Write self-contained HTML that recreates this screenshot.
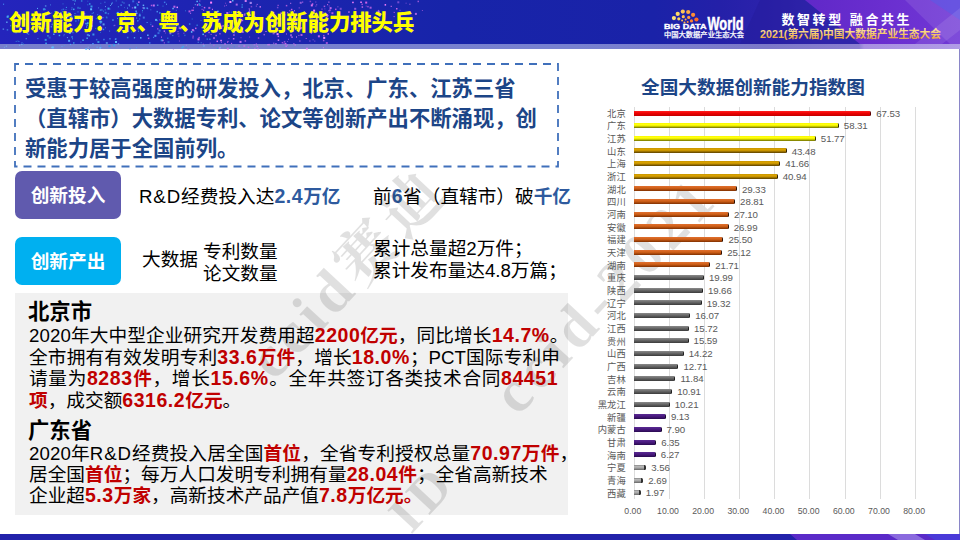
<!DOCTYPE html>
<html lang="zh-CN">
<head>
<meta charset="utf-8">
<title>创新能力：京、粤、苏成为创新能力排头兵</title>
<style>
*{margin:0;padding:0;box-sizing:border-box}
html,body{width:960px;height:540px;overflow:hidden;background:#fff}
body{position:relative;font-family:"Liberation Sans","Noto Sans CJK SC",sans-serif;color:#000}
.abs{position:absolute;white-space:nowrap}
/* header */
#ttl{left:9px;top:7.5px;font-size:21.33px;font-weight:900;color:#ffff00;line-height:30px;letter-spacing:0px}
/* content */
#intro{left:25px;top:73.5px;font-size:21.33px;font-weight:bold;color:#1c4587;line-height:30px}
.btn{position:absolute;left:15px;width:106px;height:48px;border-radius:7px;color:#fff;font-size:18.67px;font-weight:bold;text-align:center;line-height:48px}
#b1{top:171px;background:#605aae;line-height:50.5px}
#b2{top:237px;background:#00b0f0;line-height:49.2px}
.t18{font-size:18.67px;line-height:22px}
.bl{color:#2e5a9e;font-weight:bold}
.jl{text-align:justify;text-align-last:justify}
.rd{color:#c00000;font-weight:bold}
.n{font-size:19.5px;letter-spacing:0.55px}
#gbox{position:absolute;left:15px;top:293px;width:553px;height:222px;background:#f1f1f1}
.h20{font-size:21.33px;font-weight:bold;line-height:24px}
/* chart */
#ctitle{left:641px;top:75px;font-size:18.67px;font-weight:bold;color:#1c4587;line-height:26px}
.gl{position:absolute;top:107px;width:1px;height:392px;background:#dcdcdc}
.ax{position:absolute;top:505px;width:40px;text-align:center;font-size:8.7px;color:#595959;line-height:12px}
.cl{position:absolute;right:334.3px;font-size:9.3px;color:#595959;line-height:12px;white-space:nowrap}
.vl{position:absolute;font-size:9.7px;color:#595959;line-height:12px;letter-spacing:-0.1px}
.bar{position:absolute;left:633.8px;height:5px;border-radius:0 1.5px 1.5px 0}
.bar.r{background:linear-gradient(#ff2020 0%,#f00000 45%,#c00000 100%);border-right:1.5px solid #600000}
.bar.y{background:linear-gradient(#f8f800 0%,#ffff10 30%,#f0f000 52%,#b0b000 78%,#6a6a00 100%);border-right:1.5px solid #303000}
.bar.g{background:linear-gradient(#c89600 0%,#d8a000 30%,#c89400 50%,#8a6400 78%,#5a4000 100%);border-right:1.5px solid #302000}
.bar.o{background:linear-gradient(#e07030 0%,#d06018 45%,#803000 100%);border-right:1.5px solid #301000}
.bar.d{background:linear-gradient(#8a8a8a 0%,#686868 45%,#3a3a3a 100%);border-right:1.5px solid #202020}
.bar.p{background:linear-gradient(#5a2a92 0%,#4a1a80 45%,#2a0a50 100%);border-right:1.5px solid #180830}
.bar.l{background:linear-gradient(#888 0%,#bdbdbd 35%,#a0a0a0 60%,#666 100%);border-right:2px solid #303030}
</style>
</head>
<body>
<svg width="960" height="50" viewBox="0 0 960 50" style="position:absolute;left:0;top:0">
<defs>
<linearGradient id="hb" x1="0" y1="0" x2="960" y2="0" gradientUnits="userSpaceOnUse"><stop offset="0" stop-color="#2424bc"/><stop offset="0.26" stop-color="#1c24b0"/><stop offset="0.47" stop-color="#1724a9"/><stop offset="0.68" stop-color="#1a22a8"/><stop offset="0.75" stop-color="#2420a8"/><stop offset="0.80" stop-color="#2c22ac"/><stop offset="0.86" stop-color="#3a2cb8"/><stop offset="1" stop-color="#3a2cb8"/></linearGradient>
<linearGradient id="hp" x1="0" y1="0" x2="1" y2="0"><stop offset="0" stop-color="#6028c8"/><stop offset="0.5" stop-color="#6a2ecf"/><stop offset="1" stop-color="#7038d6"/></linearGradient>
<linearGradient id="hs" x1="0" y1="0" x2="960" y2="0" gradientUnits="userSpaceOnUse"><stop offset="0" stop-color="#7880cc"/><stop offset="0.6" stop-color="#7882d0"/><stop offset="0.8" stop-color="#7c78c8"/><stop offset="0.895" stop-color="#8a7ed0"/><stop offset="0.9" stop-color="#a890e0"/><stop offset="1" stop-color="#b09ce6"/></linearGradient>
<linearGradient id="gold" x1="0" y1="0" x2="0" y2="1"><stop offset="0" stop-color="#fff0b0"/><stop offset="0.5" stop-color="#f6c868"/><stop offset="1" stop-color="#e89a3a"/></linearGradient>
</defs>
<rect x="0" y="0" width="960" height="44" fill="url(#hb)"/>
<polygon points="740,44 860,44 805,0 760,0" fill="#241a9a" opacity="0.45"/>
<polygon points="805,0 960,0 960,44 860,44" fill="url(#hp)"/>
<polygon points="905,0 960,0 960,44 950,44" fill="#ffffff" opacity="0.10"/>
<polygon points="930,0 960,0 960,20" fill="#5a5ae6" opacity="0.6"/>
<polygon points="915,44 960,8 960,30 942,44" fill="#ffffff" opacity="0.10"/>
<rect x="0" y="44" width="960" height="5" fill="url(#hs)"/>
<rect x="142.5" y="7.4" width="1" height="1" fill="#ff80ff" opacity="0.85"/>
<rect x="256.4" y="44.6" width="1" height="1" fill="#c070f0" opacity="0.7"/>
<rect x="54.5" y="10.9" width="1.5" height="1.5" fill="#4aa0ff" opacity="1"/>
<rect x="58.6" y="20.5" width="2" height="2" fill="#4aa0ff" opacity="0.7"/>
<rect x="45.3" y="28.0" width="1.5" height="1.5" fill="#40a8f0" opacity="0.55"/>
<rect x="159.1" y="12.2" width="1.5" height="1.5" fill="#40a8f0" opacity="0.85"/>
<rect x="231.1" y="42.9" width="1" height="1" fill="#e070f0" opacity="1"/>
<rect x="185.5" y="47.1" width="1" height="1" fill="#3890e0" opacity="0.85"/>
<rect x="261.5" y="28.4" width="1.5" height="1.5" fill="#f08cff" opacity="0.55"/>
<rect x="169.7" y="32.8" width="1.5" height="1.5" fill="#5ab8ff" opacity="0.55"/>
<rect x="217.2" y="10.7" width="1.5" height="1.5" fill="#70c8ff" opacity="1"/>
<rect x="122.5" y="20.3" width="1" height="1" fill="#5ab8ff" opacity="0.55"/>
<rect x="77.5" y="11.4" width="1" height="1" fill="#4aa0ff" opacity="0.85"/>
<rect x="124.0" y="7.1" width="1" height="1" fill="#3890e0" opacity="0.55"/>
<rect x="299.5" y="27.4" width="2" height="2" fill="#c070f0" opacity="1"/>
<rect x="71.4" y="16.7" width="1.5" height="1.5" fill="#5ab8ff" opacity="0.55"/>
<rect x="91.5" y="18.4" width="1" height="1" fill="#4aa0ff" opacity="1"/>
<rect x="205.0" y="23.7" width="2" height="2" fill="#f08cff" opacity="0.85"/>
<rect x="210.6" y="33.9" width="1" height="1" fill="#ff80ff" opacity="0.7"/>
<rect x="131.2" y="31.5" width="1" height="1" fill="#4aa0ff" opacity="0.7"/>
<rect x="156.5" y="10.9" width="1.5" height="1.5" fill="#5ab8ff" opacity="0.7"/>
<rect x="99.8" y="25.4" width="1" height="1" fill="#40a8f0" opacity="1"/>
<rect x="99.8" y="9.6" width="1" height="1" fill="#4aa0ff" opacity="1"/>
<rect x="367.2" y="5.9" width="1.5" height="1.5" fill="#d060e8" opacity="0.7"/>
<rect x="190.9" y="31.2" width="1.5" height="1.5" fill="#70c8ff" opacity="1"/>
<rect x="327.1" y="4.2" width="1" height="1" fill="#e070f0" opacity="1"/>
<rect x="241.4" y="6.4" width="1.5" height="1.5" fill="#40a8f0" opacity="0.7"/>
<rect x="92.9" y="12.3" width="1" height="1" fill="#4aa0ff" opacity="0.85"/>
<rect x="239.5" y="40.9" width="2" height="2" fill="#c070f0" opacity="1"/>
<rect x="65.9" y="6.9" width="1" height="1" fill="#40a8f0" opacity="1"/>
<rect x="222.4" y="25.1" width="1.5" height="1.5" fill="#ff80ff" opacity="0.7"/>
<rect x="369.6" y="6.7" width="2" height="2" fill="#e070f0" opacity="0.7"/>
<rect x="188.5" y="10.4" width="2" height="2" fill="#d060e8" opacity="0.85"/>
<rect x="96.6" y="46.7" width="1" height="1" fill="#5ab8ff" opacity="1"/>
<rect x="156.9" y="4.5" width="1.5" height="1.5" fill="#70c8ff" opacity="0.55"/>
<rect x="169.1" y="25.4" width="1" height="1" fill="#40a8f0" opacity="0.55"/>
<rect x="178.6" y="26.3" width="1" height="1" fill="#3890e0" opacity="0.85"/>
<rect x="117.9" y="6.3" width="1" height="1" fill="#40a8f0" opacity="0.85"/>
<rect x="134.2" y="37.2" width="1" height="1" fill="#5ab8ff" opacity="0.85"/>
<rect x="226.3" y="12.0" width="2" height="2" fill="#c070f0" opacity="1"/>
<rect x="135.4" y="10.5" width="1.5" height="1.5" fill="#5ab8ff" opacity="0.85"/>
<rect x="275.2" y="43.1" width="1.5" height="1.5" fill="#c070f0" opacity="0.85"/>
<rect x="263.5" y="33.9" width="1.5" height="1.5" fill="#f08cff" opacity="0.55"/>
<rect x="136.2" y="17.5" width="1" height="1" fill="#70c8ff" opacity="0.7"/>
<rect x="109.2" y="38.0" width="1.5" height="1.5" fill="#5ab8ff" opacity="0.55"/>
<rect x="173.4" y="14.7" width="1" height="1" fill="#ff80ff" opacity="1"/>
<rect x="125.0" y="30.3" width="2" height="2" fill="#4aa0ff" opacity="1"/>
<rect x="322.9" y="39.8" width="1.5" height="1.5" fill="#ff80ff" opacity="0.55"/>
<rect x="300.5" y="34.0" width="2" height="2" fill="#d060e8" opacity="0.85"/>
<rect x="107.6" y="12.9" width="1.5" height="1.5" fill="#4aa0ff" opacity="0.55"/>
<rect x="111.0" y="3.6" width="1" height="1" fill="#5ab8ff" opacity="1"/>
<rect x="217.3" y="18.7" width="1.5" height="1.5" fill="#e070f0" opacity="0.7"/>
<rect x="327.0" y="14.9" width="1.5" height="1.5" fill="#e070f0" opacity="0.85"/>
<rect x="215.4" y="34.7" width="1.5" height="1.5" fill="#e070f0" opacity="0.7"/>
<rect x="137.1" y="4.2" width="1.5" height="1.5" fill="#40a8f0" opacity="1"/>
<rect x="409.4" y="3.7" width="1" height="1" fill="#f08cff" opacity="0.7"/>
<rect x="265.5" y="31.0" width="1" height="1" fill="#f08cff" opacity="1"/>
<rect x="395.0" y="23.8" width="2" height="2" fill="#c070f0" opacity="1"/>
<rect x="178.4" y="35.6" width="1" height="1" fill="#e070f0" opacity="0.55"/>
<rect x="142.8" y="16.6" width="2" height="2" fill="#5ab8ff" opacity="0.55"/>
<rect x="172.9" y="48.9" width="1" height="1" fill="#c070f0" opacity="0.55"/>
<rect x="123.5" y="2.5" width="1" height="1" fill="#5ab8ff" opacity="0.85"/>
<rect x="345.5" y="21.0" width="1.5" height="1.5" fill="#c070f0" opacity="0.7"/>
<rect x="198.4" y="36.9" width="1.5" height="1.5" fill="#e070f0" opacity="0.7"/>
<rect x="75.1" y="20.3" width="1.5" height="1.5" fill="#3890e0" opacity="0.7"/>
<rect x="132.4" y="27.3" width="1" height="1" fill="#5ab8ff" opacity="0.7"/>
<rect x="220.3" y="39.8" width="1.5" height="1.5" fill="#f08cff" opacity="1"/>
<rect x="61.4" y="9.4" width="1" height="1" fill="#40a8f0" opacity="0.7"/>
<rect x="162.1" y="39.7" width="1.5" height="1.5" fill="#c070f0" opacity="1"/>
<rect x="328.2" y="10.3" width="1" height="1" fill="#c070f0" opacity="0.85"/>
<rect x="55.4" y="24.7" width="1" height="1" fill="#5ab8ff" opacity="0.85"/>
<rect x="197.5" y="38.4" width="2" height="2" fill="#e070f0" opacity="1"/>
<rect x="37.4" y="38.1" width="1" height="1" fill="#4aa0ff" opacity="0.85"/>
<rect x="192.5" y="37.4" width="1" height="1" fill="#ff80ff" opacity="1"/>
<rect x="114.8" y="38.7" width="1" height="1" fill="#70c8ff" opacity="0.85"/>
<rect x="283.6" y="43.3" width="1" height="1" fill="#d060e8" opacity="1"/>
<rect x="310.0" y="15.1" width="1" height="1" fill="#c070f0" opacity="0.85"/>
<rect x="100.2" y="20.8" width="2" height="2" fill="#3890e0" opacity="1"/>
<rect x="159.4" y="19.4" width="1" height="1" fill="#ff80ff" opacity="0.7"/>
<rect x="85.3" y="22.8" width="1.5" height="1.5" fill="#40a8f0" opacity="1"/>
<rect x="268.4" y="43.9" width="1.5" height="1.5" fill="#e070f0" opacity="0.7"/>
<rect x="405.6" y="2.7" width="1" height="1" fill="#c070f0" opacity="0.55"/>
<rect x="81.0" y="22.0" width="1" height="1" fill="#40a8f0" opacity="0.7"/>
<rect x="328.4" y="1.6" width="1" height="1" fill="#f08cff" opacity="1"/>
<rect x="74.5" y="0.1" width="1.5" height="1.5" fill="#40a8f0" opacity="0.7"/>
<rect x="167.3" y="37.7" width="1" height="1" fill="#40a8f0" opacity="1"/>
<rect x="86.1" y="26.5" width="1" height="1" fill="#70c8ff" opacity="1"/>
<rect x="109.1" y="30.6" width="1" height="1" fill="#70c8ff" opacity="0.55"/>
<rect x="139.3" y="13.5" width="1" height="1" fill="#40a8f0" opacity="0.7"/>
<rect x="47.2" y="35.1" width="1.5" height="1.5" fill="#3890e0" opacity="1"/>
<rect x="58.4" y="24.3" width="2" height="2" fill="#3890e0" opacity="0.7"/>
<rect x="267.2" y="16.1" width="1" height="1" fill="#ff80ff" opacity="0.7"/>
<rect x="172.3" y="7.8" width="1.5" height="1.5" fill="#70c8ff" opacity="0.85"/>
<rect x="70.7" y="20.9" width="1" height="1" fill="#4aa0ff" opacity="0.7"/>
<rect x="42.4" y="24.4" width="1" height="1" fill="#5ab8ff" opacity="1"/>
<rect x="202.8" y="43.7" width="1" height="1" fill="#e070f0" opacity="0.85"/>
<rect x="122.9" y="13.1" width="1" height="1" fill="#70c8ff" opacity="0.7"/>
<rect x="254.4" y="16.0" width="1.5" height="1.5" fill="#4aa0ff" opacity="0.7"/>
<rect x="285.8" y="4.9" width="1.5" height="1.5" fill="#e070f0" opacity="0.7"/>
<rect x="129.2" y="5.8" width="1" height="1" fill="#4aa0ff" opacity="0.55"/>
<rect x="163.8" y="42.4" width="1" height="1" fill="#e070f0" opacity="0.85"/>
<rect x="95.8" y="18.1" width="1" height="1" fill="#3890e0" opacity="0.7"/>
<rect x="163.6" y="30.4" width="1.5" height="1.5" fill="#c070f0" opacity="1"/>
<rect x="242.1" y="31.3" width="1.5" height="1.5" fill="#f08cff" opacity="0.85"/>
<rect x="293.8" y="20.5" width="1.5" height="1.5" fill="#f08cff" opacity="1"/>
<rect x="283.6" y="19.1" width="1" height="1" fill="#c070f0" opacity="1"/>
<rect x="50.0" y="4.4" width="1" height="1" fill="#5ab8ff" opacity="0.55"/>
<rect x="324.4" y="8.4" width="1" height="1" fill="#d060e8" opacity="0.55"/>
<rect x="19.1" y="44.7" width="1" height="1" fill="#70c8ff" opacity="0.7"/>
<rect x="281.7" y="42.0" width="1.5" height="1.5" fill="#d060e8" opacity="0.7"/>
<rect x="68.9" y="17.6" width="1" height="1" fill="#5ab8ff" opacity="0.55"/>
<rect x="293.9" y="15.9" width="2" height="2" fill="#f08cff" opacity="1"/>
<rect x="135.6" y="12.2" width="1.5" height="1.5" fill="#4aa0ff" opacity="0.7"/>
<rect x="201.6" y="8.8" width="1" height="1" fill="#d060e8" opacity="1"/>
<rect x="160.7" y="39.3" width="2" height="2" fill="#40a8f0" opacity="0.7"/>
<rect x="225.1" y="2.7" width="1" height="1" fill="#d060e8" opacity="0.55"/>
<rect x="85.2" y="48.1" width="2" height="2" fill="#5ab8ff" opacity="0.7"/>
<rect x="69.9" y="43.9" width="1" height="1" fill="#5ab8ff" opacity="1"/>
<rect x="91.7" y="12.9" width="1" height="1" fill="#40a8f0" opacity="0.7"/>
<rect x="177.5" y="31.2" width="1" height="1" fill="#c070f0" opacity="0.85"/>
<rect x="50.6" y="26.0" width="1.5" height="1.5" fill="#70c8ff" opacity="0.55"/>
<rect x="324.7" y="18.2" width="1" height="1" fill="#d060e8" opacity="0.85"/>
<rect x="257.8" y="32.5" width="1" height="1" fill="#e070f0" opacity="0.7"/>
<rect x="128.0" y="30.7" width="1" height="1" fill="#40a8f0" opacity="1"/>
<rect x="100.0" y="32.0" width="1" height="1" fill="#3890e0" opacity="0.55"/>
<rect x="230.2" y="26.2" width="1" height="1" fill="#d060e8" opacity="0.85"/>
<rect x="274.5" y="23.3" width="2" height="2" fill="#d060e8" opacity="0.7"/>
<rect x="198.4" y="3.1" width="1.5" height="1.5" fill="#3890e0" opacity="0.85"/>
<rect x="72.6" y="0.0" width="1" height="1" fill="#5ab8ff" opacity="0.7"/>
<rect x="25.7" y="38.2" width="1" height="1" fill="#5ab8ff" opacity="1"/>
<rect x="87.8" y="29.8" width="1" height="1" fill="#4aa0ff" opacity="0.85"/>
<rect x="35.4" y="32.1" width="1" height="1" fill="#3890e0" opacity="0.55"/>
<rect x="414.9" y="12.9" width="2" height="2" fill="#c070f0" opacity="0.85"/>
<rect x="37.6" y="24.9" width="1" height="1" fill="#5ab8ff" opacity="0.85"/>
<rect x="84.5" y="19.0" width="1.5" height="1.5" fill="#4aa0ff" opacity="1"/>
<rect x="192.4" y="35.5" width="1.5" height="1.5" fill="#d060e8" opacity="0.55"/>
<rect x="248.7" y="8.4" width="1" height="1" fill="#ff80ff" opacity="0.85"/>
<rect x="60.9" y="31.5" width="1" height="1" fill="#40a8f0" opacity="0.85"/>
<rect x="87.7" y="46.8" width="1" height="1" fill="#70c8ff" opacity="0.7"/>
<rect x="90.5" y="5.5" width="2" height="2" fill="#40a8f0" opacity="0.85"/>
<rect x="284.4" y="14.4" width="1" height="1" fill="#f08cff" opacity="0.85"/>
<rect x="13.7" y="25.4" width="1.5" height="1.5" fill="#40a8f0" opacity="0.7"/>
<rect x="314.3" y="40.6" width="1" height="1" fill="#c070f0" opacity="0.7"/>
<rect x="126.9" y="36.8" width="1.5" height="1.5" fill="#40a8f0" opacity="0.7"/>
<rect x="226.7" y="28.3" width="1.5" height="1.5" fill="#5ab8ff" opacity="0.7"/>
<rect x="48.4" y="31.2" width="1" height="1" fill="#4aa0ff" opacity="0.85"/>
<rect x="156.5" y="19.7" width="1.5" height="1.5" fill="#40a8f0" opacity="0.55"/>
<rect x="163.7" y="14.9" width="1.5" height="1.5" fill="#5ab8ff" opacity="0.7"/>
<rect x="303.3" y="29.7" width="1" height="1" fill="#ff80ff" opacity="1"/>
<rect x="291.3" y="36.4" width="1.5" height="1.5" fill="#f08cff" opacity="0.7"/>
<rect x="104.7" y="9.4" width="1" height="1" fill="#4aa0ff" opacity="0.7"/>
<rect x="72.4" y="32.2" width="1" height="1" fill="#5ab8ff" opacity="0.85"/>
<rect x="191.4" y="9.6" width="1.5" height="1.5" fill="#d060e8" opacity="1"/>
<rect x="203.8" y="6.9" width="1.5" height="1.5" fill="#d060e8" opacity="1"/>
<rect x="100.6" y="8.9" width="2" height="2" fill="#3890e0" opacity="0.55"/>
<rect x="393.7" y="11.9" width="1" height="1" fill="#d060e8" opacity="1"/>
<rect x="393.6" y="16.1" width="1" height="1" fill="#e070f0" opacity="0.85"/>
<rect x="92.4" y="33.5" width="2" height="2" fill="#40a8f0" opacity="0.85"/>
<rect x="280.5" y="12.4" width="1.5" height="1.5" fill="#e070f0" opacity="1"/>
<rect x="276.6" y="33.1" width="2" height="2" fill="#f08cff" opacity="1"/>
<rect x="99.4" y="47.2" width="1.5" height="1.5" fill="#70c8ff" opacity="0.85"/>
<rect x="206.5" y="38.4" width="1.5" height="1.5" fill="#3890e0" opacity="0.7"/>
<rect x="157.5" y="32.1" width="2" height="2" fill="#4aa0ff" opacity="0.55"/>
<rect x="365.8" y="31.0" width="2" height="2" fill="#e070f0" opacity="0.85"/>
<rect x="110.0" y="5.0" width="1" height="1" fill="#70c8ff" opacity="0.7"/>
<rect x="91.8" y="19.7" width="1" height="1" fill="#4aa0ff" opacity="0.85"/>
<rect x="86.8" y="33.9" width="2" height="2" fill="#70c8ff" opacity="0.55"/>
<rect x="244.2" y="13.0" width="1.5" height="1.5" fill="#c070f0" opacity="0.55"/>
<rect x="213.1" y="44.4" width="1.5" height="1.5" fill="#d060e8" opacity="0.55"/>
<rect x="70.6" y="15.7" width="1.5" height="1.5" fill="#3890e0" opacity="0.85"/>
<rect x="187.4" y="49.0" width="2" height="2" fill="#f08cff" opacity="0.55"/>
<rect x="213.0" y="37.1" width="2" height="2" fill="#c070f0" opacity="0.7"/>
<rect x="149.0" y="42.2" width="1.5" height="1.5" fill="#4aa0ff" opacity="0.7"/>
<rect x="125.0" y="16.8" width="1" height="1" fill="#f08cff" opacity="0.85"/>
<rect x="288.0" y="38.8" width="1" height="1" fill="#f08cff" opacity="0.55"/>
<rect x="132.2" y="0.3" width="2" height="2" fill="#4aa0ff" opacity="0.55"/>
<rect x="271.3" y="30.7" width="1" height="1" fill="#e070f0" opacity="0.55"/>
<rect x="44.6" y="8.9" width="1" height="1" fill="#40a8f0" opacity="0.7"/>
<rect x="132.9" y="20.7" width="1" height="1" fill="#4aa0ff" opacity="1"/>
<rect x="249.7" y="1.9" width="2" height="2" fill="#ff80ff" opacity="1"/>
<rect x="196.4" y="0.7" width="1.5" height="1.5" fill="#5ab8ff" opacity="1"/>
<rect x="241.5" y="4.1" width="1.5" height="1.5" fill="#40a8f0" opacity="0.55"/>
<rect x="377.7" y="10.7" width="2" height="2" fill="#f08cff" opacity="0.7"/>
<rect x="161.0" y="36.6" width="1" height="1" fill="#e070f0" opacity="1"/>
<rect x="202.7" y="45.7" width="1" height="1" fill="#40a8f0" opacity="0.55"/>
<rect x="73.0" y="42.2" width="1.5" height="1.5" fill="#3890e0" opacity="1"/>
<rect x="51.4" y="46.7" width="1.5" height="1.5" fill="#70c8ff" opacity="1"/>
<rect x="309.4" y="40.5" width="1" height="1" fill="#e070f0" opacity="0.85"/>
<rect x="257.3" y="47.8" width="1.5" height="1.5" fill="#c070f0" opacity="0.7"/>
<rect x="355.3" y="13.9" width="1" height="1" fill="#c070f0" opacity="0.55"/>
<rect x="220.0" y="26.2" width="1" height="1" fill="#c070f0" opacity="0.7"/>
<rect x="136.2" y="2.8" width="1.5" height="1.5" fill="#3890e0" opacity="0.55"/>
<rect x="229.6" y="23.4" width="1" height="1" fill="#d060e8" opacity="0.7"/>
<rect x="108.4" y="45.2" width="2" height="2" fill="#3890e0" opacity="1"/>
<rect x="151.8" y="25.5" width="1.5" height="1.5" fill="#ff80ff" opacity="0.7"/>
<rect x="115.1" y="38.2" width="1.5" height="1.5" fill="#4aa0ff" opacity="0.7"/>
<rect x="111.8" y="1.9" width="1" height="1" fill="#40a8f0" opacity="0.55"/>
<rect x="310.8" y="4.4" width="2" height="2" fill="#e070f0" opacity="1"/>
<rect x="80.4" y="41.6" width="1" height="1" fill="#5ab8ff" opacity="0.55"/>
<rect x="113.5" y="25.2" width="1" height="1" fill="#70c8ff" opacity="0.55"/>
<rect x="297.8" y="14.6" width="1.5" height="1.5" fill="#e070f0" opacity="0.85"/>
<rect x="163.5" y="19.1" width="1" height="1" fill="#70c8ff" opacity="0.7"/>
<rect x="141.9" y="11.5" width="1" height="1" fill="#3890e0" opacity="0.55"/>
<rect x="193.1" y="7.3" width="1" height="1" fill="#e070f0" opacity="0.85"/>
<rect x="147.2" y="8.2" width="1" height="1" fill="#70c8ff" opacity="0.7"/>
<rect x="294.0" y="10.3" width="1" height="1" fill="#f08cff" opacity="0.85"/>
<rect x="190.1" y="12.8" width="1" height="1" fill="#c070f0" opacity="1"/>
<rect x="129.2" y="48.0" width="1.5" height="1.5" fill="#3890e0" opacity="0.7"/>
<rect x="126.0" y="17.6" width="1.5" height="1.5" fill="#3890e0" opacity="0.7"/>
<rect x="313.1" y="9.6" width="2" height="2" fill="#ff80ff" opacity="1"/>
<rect x="335.0" y="8.6" width="1.5" height="1.5" fill="#d060e8" opacity="0.85"/>
<rect x="89.0" y="3.2" width="1.5" height="1.5" fill="#40a8f0" opacity="0.85"/>
<rect x="209.7" y="42.7" width="1" height="1" fill="#f08cff" opacity="0.7"/>
<rect x="31.4" y="17.5" width="2" height="2" fill="#3890e0" opacity="1"/>
<rect x="253.6" y="44.0" width="1.5" height="1.5" fill="#c070f0" opacity="0.55"/>
<rect x="233.4" y="26.3" width="1.5" height="1.5" fill="#5ab8ff" opacity="0.7"/>
<rect x="73.9" y="15.3" width="1" height="1" fill="#40a8f0" opacity="0.7"/>
<rect x="115.0" y="41.0" width="2" height="2" fill="#5ab8ff" opacity="1"/>
<rect x="45.3" y="42.6" width="1.5" height="1.5" fill="#40a8f0" opacity="1"/>
<rect x="257.8" y="37.3" width="1.5" height="1.5" fill="#d060e8" opacity="0.7"/>
<rect x="105.8" y="16.4" width="1.5" height="1.5" fill="#3890e0" opacity="0.55"/>
<rect x="142.9" y="7.2" width="2" height="2" fill="#70c8ff" opacity="0.55"/>
<rect x="160.4" y="26.0" width="2" height="2" fill="#4aa0ff" opacity="0.55"/>
<rect x="99.2" y="20.6" width="2" height="2" fill="#70c8ff" opacity="0.55"/>
<rect x="15.1" y="31.4" width="2" height="2" fill="#3890e0" opacity="0.55"/>
<rect x="273.4" y="12.3" width="1" height="1" fill="#e070f0" opacity="0.55"/>
<rect x="134.4" y="31.7" width="1" height="1" fill="#4aa0ff" opacity="0.55"/>
<rect x="205.2" y="26.2" width="1" height="1" fill="#d060e8" opacity="1"/>
<rect x="325.8" y="14.1" width="2" height="2" fill="#d060e8" opacity="1"/>
<rect x="88.5" y="34.8" width="1.5" height="1.5" fill="#4aa0ff" opacity="1"/>
<rect x="360.3" y="1.5" width="1.5" height="1.5" fill="#ff80ff" opacity="1"/>
<rect x="105.0" y="27.3" width="1" height="1" fill="#5ab8ff" opacity="0.55"/>
<rect x="339.7" y="7.8" width="2" height="2" fill="#c070f0" opacity="0.55"/>
<rect x="227.5" y="40.9" width="1" height="1" fill="#ff80ff" opacity="0.7"/>
<rect x="183.4" y="32.7" width="1" height="1" fill="#ff80ff" opacity="0.55"/>
<rect x="209.1" y="38.5" width="1.5" height="1.5" fill="#5ab8ff" opacity="0.55"/>
<rect x="219.1" y="47.2" width="1.5" height="1.5" fill="#f08cff" opacity="0.55"/>
<rect x="167.0" y="22.2" width="1" height="1" fill="#3890e0" opacity="1"/>
<rect x="231.5" y="29.2" width="1.5" height="1.5" fill="#c070f0" opacity="1"/>
<rect x="191.7" y="18.5" width="1" height="1" fill="#3890e0" opacity="0.7"/>
<rect x="421.9" y="10.0" width="1" height="1" fill="#e070f0" opacity="0.55"/>
<rect x="112.9" y="43.9" width="1.5" height="1.5" fill="#3890e0" opacity="1"/>
<rect x="227.7" y="25.3" width="1" height="1" fill="#f08cff" opacity="0.85"/>
<rect x="199.3" y="0.5" width="1" height="1" fill="#c070f0" opacity="1"/>
<rect x="285.4" y="45.5" width="1.5" height="1.5" fill="#c070f0" opacity="1"/>
<rect x="68.8" y="14.2" width="1.5" height="1.5" fill="#5ab8ff" opacity="0.7"/>
<rect x="26.5" y="27.7" width="2" height="2" fill="#40a8f0" opacity="1"/>
<rect x="243.3" y="44.9" width="2" height="2" fill="#e070f0" opacity="0.55"/>
<rect x="86.5" y="24.4" width="1.5" height="1.5" fill="#4aa0ff" opacity="0.7"/>
<rect x="252.8" y="20.1" width="1" height="1" fill="#ff80ff" opacity="0.55"/>
<rect x="44.0" y="8.4" width="1.5" height="1.5" fill="#4aa0ff" opacity="0.55"/>
<rect x="286.0" y="33.5" width="1" height="1" fill="#d060e8" opacity="0.85"/>
<rect x="74.5" y="13.1" width="1" height="1" fill="#4aa0ff" opacity="0.85"/>
<rect x="84.3" y="30.6" width="1.5" height="1.5" fill="#70c8ff" opacity="0.55"/>
<rect x="193.4" y="30.4" width="1" height="1" fill="#ff80ff" opacity="0.85"/>
<rect x="297.0" y="28.7" width="1" height="1" fill="#c070f0" opacity="0.7"/>
<rect x="185.8" y="44.7" width="1" height="1" fill="#c070f0" opacity="0.85"/>
<rect x="104.4" y="1.7" width="1" height="1" fill="#5ab8ff" opacity="0.7"/>
<rect x="354.2" y="7.8" width="2" height="2" fill="#c070f0" opacity="0.7"/>
<rect x="130.8" y="23.3" width="2" height="2" fill="#5ab8ff" opacity="0.85"/>
<rect x="235.3" y="19.8" width="2" height="2" fill="#e070f0" opacity="0.55"/>
<rect x="169.3" y="32.2" width="2" height="2" fill="#c070f0" opacity="0.55"/>
<rect x="305.7" y="38.0" width="1" height="1" fill="#e070f0" opacity="0.85"/>
<rect x="316.2" y="4.3" width="1" height="1" fill="#c070f0" opacity="0.85"/>
<rect x="121.7" y="1.4" width="1.5" height="1.5" fill="#3890e0" opacity="0.55"/>
<rect x="290.0" y="34.3" width="2" height="2" fill="#f08cff" opacity="0.55"/>
<rect x="323.0" y="34.9" width="1.5" height="1.5" fill="#d060e8" opacity="0.7"/>
<rect x="248.4" y="11.2" width="2" height="2" fill="#c070f0" opacity="0.85"/>
<rect x="299.7" y="1.8" width="2" height="2" fill="#f08cff" opacity="0.55"/>
<rect x="270.7" y="10.8" width="1.5" height="1.5" fill="#c070f0" opacity="0.85"/>
<rect x="276.4" y="22.2" width="2" height="2" fill="#c070f0" opacity="0.7"/>
<rect x="72.0" y="38.3" width="1" height="1" fill="#40a8f0" opacity="0.85"/>
<rect x="152.8" y="4.5" width="2" height="2" fill="#c070f0" opacity="1"/>
<rect x="104.7" y="11.8" width="2" height="2" fill="#3890e0" opacity="0.85"/>
<rect x="58.7" y="34.7" width="1.5" height="1.5" fill="#40a8f0" opacity="1"/>
<rect x="365.7" y="5.6" width="1" height="1" fill="#d060e8" opacity="0.55"/>
<rect x="135.9" y="47.2" width="1" height="1" fill="#4aa0ff" opacity="0.85"/>
<rect x="74.0" y="3.5" width="1" height="1" fill="#70c8ff" opacity="0.85"/>
<rect x="215.1" y="21.3" width="1" height="1" fill="#e070f0" opacity="0.55"/>
<rect x="287.1" y="12.3" width="1" height="1" fill="#e070f0" opacity="1"/>
<rect x="326.6" y="16.0" width="1" height="1" fill="#f08cff" opacity="0.85"/>
<rect x="111.6" y="2.8" width="1" height="1" fill="#70c8ff" opacity="0.7"/>
<rect x="217.5" y="24.5" width="2" height="2" fill="#ff80ff" opacity="0.55"/>
<rect x="62.4" y="11.1" width="1" height="1" fill="#70c8ff" opacity="0.55"/>
<rect x="163.9" y="1.6" width="1.5" height="1.5" fill="#4aa0ff" opacity="0.7"/>
<rect x="124.6" y="32.4" width="1" height="1" fill="#3890e0" opacity="1"/>
<rect x="3.9" y="46.8" width="1" height="1" fill="#70c8ff" opacity="0.55"/>
<rect x="195.0" y="27.6" width="1.5" height="1.5" fill="#e070f0" opacity="0.85"/>
<rect x="227.4" y="21.0" width="1.5" height="1.5" fill="#d060e8" opacity="0.55"/>
<rect x="268.0" y="14.6" width="2" height="2" fill="#c070f0" opacity="0.7"/>
<rect x="196.8" y="4.2" width="1.5" height="1.5" fill="#ff80ff" opacity="0.85"/>
<rect x="233.2" y="27.7" width="1" height="1" fill="#d060e8" opacity="0.55"/>
<rect x="97.4" y="41.0" width="2" height="2" fill="#3890e0" opacity="1"/>
<rect x="99.9" y="22.4" width="1.5" height="1.5" fill="#4aa0ff" opacity="0.55"/>
<rect x="59.1" y="24.7" width="2" height="2" fill="#40a8f0" opacity="0.55"/>
<rect x="202.4" y="33.6" width="1.5" height="1.5" fill="#5ab8ff" opacity="1"/>
<rect x="6.7" y="29.1" width="1.5" height="1.5" fill="#5ab8ff" opacity="0.55"/>
<rect x="273.3" y="42.7" width="1" height="1" fill="#f08cff" opacity="0.85"/>
<rect x="299.4" y="40.5" width="1" height="1" fill="#ff80ff" opacity="1"/>
<rect x="19.1" y="29.6" width="1" height="1" fill="#4aa0ff" opacity="0.55"/>
<rect x="255.8" y="5.6" width="1" height="1" fill="#f08cff" opacity="0.7"/>
<rect x="243.9" y="14.2" width="1.5" height="1.5" fill="#d060e8" opacity="0.85"/>
<rect x="417.5" y="0.7" width="1.5" height="1.5" fill="#ff80ff" opacity="0.55"/>
<rect x="352.2" y="1.7" width="1.5" height="1.5" fill="#ff80ff" opacity="1"/>
<rect x="100.9" y="46.9" width="1" height="1" fill="#4aa0ff" opacity="0.85"/>
<rect x="74.7" y="17.7" width="1" height="1" fill="#70c8ff" opacity="0.85"/>
<rect x="2.6" y="28.4" width="1.5" height="1.5" fill="#70c8ff" opacity="0.55"/>
<rect x="277.6" y="35.6" width="1.5" height="1.5" fill="#e070f0" opacity="0.85"/>
<rect x="157.0" y="28.1" width="1.5" height="1.5" fill="#e070f0" opacity="0.55"/>
<rect x="279.2" y="17.8" width="2" height="2" fill="#d060e8" opacity="0.55"/>
<rect x="133.8" y="37.4" width="1" height="1" fill="#5ab8ff" opacity="1"/>
<rect x="147.1" y="34.5" width="1.5" height="1.5" fill="#70c8ff" opacity="0.85"/>
<rect x="295.4" y="19.8" width="1.5" height="1.5" fill="#d060e8" opacity="0.55"/>
<rect x="63.3" y="35.3" width="1" height="1" fill="#3890e0" opacity="0.7"/>
<rect x="256.7" y="3.9" width="1" height="1" fill="#c070f0" opacity="1"/>
<rect x="240.5" y="37.2" width="1" height="1" fill="#e070f0" opacity="0.55"/>
<rect x="175.8" y="9.8" width="1" height="1" fill="#40a8f0" opacity="0.7"/>
<rect x="322.9" y="47.2" width="1" height="1" fill="#ff80ff" opacity="0.7"/>
<rect x="6.6" y="15.8" width="2" height="2" fill="#40a8f0" opacity="1"/>
<rect x="178.3" y="33.3" width="1" height="1" fill="#c070f0" opacity="0.55"/>
<rect x="275.6" y="16.4" width="1.5" height="1.5" fill="#f08cff" opacity="0.55"/>
<rect x="137.9" y="20.3" width="1" height="1" fill="#5ab8ff" opacity="0.55"/>
<rect x="237.0" y="28.8" width="1.5" height="1.5" fill="#ff80ff" opacity="0.85"/>
<rect x="210.1" y="1.6" width="2" height="2" fill="#ff80ff" opacity="1"/>
<rect x="246.1" y="17.7" width="1" height="1" fill="#f08cff" opacity="1"/>
<rect x="66.3" y="30.8" width="1.5" height="1.5" fill="#40a8f0" opacity="0.7"/>
<rect x="53.8" y="26.6" width="1.5" height="1.5" fill="#3890e0" opacity="0.85"/>
<rect x="154.4" y="34.8" width="2" height="2" fill="#5ab8ff" opacity="0.85"/>
<rect x="296.7" y="17.2" width="2" height="2" fill="#c070f0" opacity="0.7"/>
<rect x="106.4" y="17.4" width="1" height="1" fill="#3890e0" opacity="1"/>
<rect x="95.3" y="27.9" width="1" height="1" fill="#3890e0" opacity="0.85"/>
<rect x="124.3" y="16.2" width="1" height="1" fill="#5ab8ff" opacity="1"/>
<rect x="61.5" y="45.9" width="1" height="1" fill="#5ab8ff" opacity="0.7"/>
<rect x="42.9" y="8.3" width="2" height="2" fill="#3890e0" opacity="1"/>
<rect x="103.2" y="38.8" width="1.5" height="1.5" fill="#4aa0ff" opacity="0.7"/>
<rect x="21.3" y="43.8" width="1" height="1" fill="#70c8ff" opacity="1"/>
<rect x="309.6" y="0.7" width="1.5" height="1.5" fill="#d060e8" opacity="0.55"/>
<rect x="179.6" y="27.3" width="2" height="2" fill="#e070f0" opacity="1"/>
<rect x="239.3" y="26.9" width="1.5" height="1.5" fill="#3890e0" opacity="1"/>
<rect x="170.3" y="18.9" width="1" height="1" fill="#e070f0" opacity="0.85"/>
<rect x="178.6" y="27.4" width="1.5" height="1.5" fill="#f08cff" opacity="0.55"/>
<rect x="208.3" y="31.7" width="1.5" height="1.5" fill="#ff80ff" opacity="0.7"/>
<rect x="90.1" y="8.3" width="2" height="2" fill="#5ab8ff" opacity="1"/>
<rect x="286.9" y="44.6" width="1" height="1" fill="#c070f0" opacity="1"/>
<rect x="67.7" y="12.3" width="1.5" height="1.5" fill="#4aa0ff" opacity="0.85"/>
<rect x="199.2" y="4.3" width="1.5" height="1.5" fill="#40a8f0" opacity="1"/>
<rect x="321.5" y="8.6" width="1" height="1" fill="#d060e8" opacity="1"/>
<rect x="229.1" y="11.6" width="1" height="1" fill="#c070f0" opacity="0.55"/>
<rect x="244.7" y="0.0" width="2" height="2" fill="#f08cff" opacity="0.85"/>
<rect x="403.4" y="12.5" width="2" height="2" fill="#ff80ff" opacity="1"/>
<rect x="377.9" y="9.9" width="1" height="1" fill="#ff80ff" opacity="0.55"/>
<rect x="315.7" y="18.4" width="1.5" height="1.5" fill="#c070f0" opacity="0.85"/>
<rect x="155.0" y="18.9" width="2" height="2" fill="#5ab8ff" opacity="0.85"/>
<rect x="182.5" y="45.9" width="1.5" height="1.5" fill="#40a8f0" opacity="1"/>
<rect x="238.3" y="45.4" width="1.5" height="1.5" fill="#c070f0" opacity="0.55"/>
<rect x="61.7" y="19.9" width="1" height="1" fill="#3890e0" opacity="0.7"/>
<rect x="120.9" y="12.9" width="1.5" height="1.5" fill="#3890e0" opacity="1"/>
<rect x="224.8" y="20.6" width="1.5" height="1.5" fill="#c070f0" opacity="0.85"/>
<rect x="134.2" y="6.5" width="2" height="2" fill="#70c8ff" opacity="1"/>
<rect x="150.4" y="22.4" width="1" height="1" fill="#3890e0" opacity="0.55"/>
<rect x="179.9" y="27.7" width="1" height="1" fill="#c070f0" opacity="0.7"/>
<rect x="312.6" y="39.3" width="1" height="1" fill="#c070f0" opacity="0.7"/>
<rect x="21.5" y="42.3" width="1" height="1" fill="#5ab8ff" opacity="0.7"/>
<rect x="219.2" y="33.0" width="1.5" height="1.5" fill="#d060e8" opacity="0.7"/>
<rect x="64.1" y="45.0" width="1" height="1" fill="#40a8f0" opacity="0.55"/>
<rect x="113.3" y="44.4" width="2" height="2" fill="#40a8f0" opacity="0.7"/>
<rect x="18.4" y="41.0" width="1" height="1" fill="#4aa0ff" opacity="0.7"/>
<rect x="136.2" y="12.6" width="1.5" height="1.5" fill="#5ab8ff" opacity="0.55"/>
<rect x="144.2" y="7.6" width="1" height="1" fill="#40a8f0" opacity="1"/>
<rect x="65.5" y="9.0" width="1" height="1" fill="#40a8f0" opacity="0.55"/>
<rect x="289.3" y="10.3" width="1" height="1" fill="#e070f0" opacity="1"/>
<rect x="153.1" y="36.8" width="1" height="1" fill="#40a8f0" opacity="1"/>
<rect x="123.2" y="14.8" width="1" height="1" fill="#5ab8ff" opacity="1"/>
<rect x="100.0" y="45.3" width="1" height="1" fill="#40a8f0" opacity="0.7"/>
<rect x="146.6" y="22.0" width="1" height="1" fill="#5ab8ff" opacity="0.85"/>
<rect x="328.7" y="5.5" width="1" height="1" fill="#e070f0" opacity="0.55"/>
<rect x="225.9" y="4.8" width="1" height="1" fill="#ff80ff" opacity="0.55"/>
<rect x="164.9" y="32.5" width="1" height="1" fill="#e070f0" opacity="0.55"/>
<rect x="51.5" y="24.3" width="1" height="1" fill="#70c8ff" opacity="0.7"/>
<rect x="250.1" y="2.1" width="1.5" height="1.5" fill="#3890e0" opacity="0.7"/>
<rect x="235.3" y="11.7" width="1.5" height="1.5" fill="#e070f0" opacity="0.7"/>
<rect x="67.6" y="12.9" width="1" height="1" fill="#4aa0ff" opacity="0.85"/>
<rect x="250.7" y="5.9" width="1.5" height="1.5" fill="#d060e8" opacity="0.55"/>
<rect x="361.4" y="3.6" width="1.5" height="1.5" fill="#d060e8" opacity="0.7"/>
<rect x="203.2" y="45.1" width="1.5" height="1.5" fill="#70c8ff" opacity="0.55"/>
<rect x="298.7" y="7.4" width="1" height="1" fill="#d060e8" opacity="0.85"/>
<rect x="311.8" y="3.3" width="1.5" height="1.5" fill="#e070f0" opacity="0.85"/>
<rect x="296.0" y="36.5" width="1" height="1" fill="#f08cff" opacity="1"/>
<rect x="233.9" y="46.4" width="1" height="1" fill="#3890e0" opacity="0.7"/>
<rect x="87.1" y="22.4" width="1.5" height="1.5" fill="#40a8f0" opacity="1"/>
<rect x="287.1" y="41.0" width="1" height="1" fill="#c070f0" opacity="0.55"/>
<rect x="131.8" y="7.1" width="1.5" height="1.5" fill="#c070f0" opacity="0.55"/>
<rect x="128.5" y="4.3" width="1.5" height="1.5" fill="#70c8ff" opacity="0.7"/>
<rect x="53.1" y="33.5" width="1.5" height="1.5" fill="#5ab8ff" opacity="0.85"/>
<rect x="146.4" y="7.4" width="1.5" height="1.5" fill="#4aa0ff" opacity="0.85"/>
<rect x="219.9" y="46.8" width="1" height="1" fill="#5ab8ff" opacity="1"/>
<rect x="232.0" y="0.0" width="1.5" height="1.5" fill="#70c8ff" opacity="0.85"/>
<rect x="323.2" y="36.9" width="2" height="2" fill="#f08cff" opacity="1"/>
<rect x="278.0" y="18.4" width="1.5" height="1.5" fill="#c070f0" opacity="0.85"/>
<rect x="390.7" y="5.8" width="1" height="1" fill="#ff80ff" opacity="1"/>
<rect x="15.4" y="15.9" width="1" height="1" fill="#3890e0" opacity="0.7"/>
<rect x="258.5" y="28.3" width="2" height="2" fill="#ff80ff" opacity="0.85"/>
<rect x="216.9" y="47.8" width="1" height="1" fill="#3890e0" opacity="1"/>
<rect x="71.3" y="36.2" width="1.5" height="1.5" fill="#40a8f0" opacity="0.85"/>
<rect x="177.4" y="33.4" width="1" height="1" fill="#c070f0" opacity="0.55"/>
<rect x="89.7" y="44.5" width="1" height="1" fill="#5ab8ff" opacity="0.55"/>
<rect x="66.9" y="37.1" width="1" height="1" fill="#70c8ff" opacity="0.85"/>
<rect x="172.3" y="35.1" width="1" height="1" fill="#40a8f0" opacity="1"/>
<rect x="116.8" y="11.9" width="2" height="2" fill="#4aa0ff" opacity="1"/>
<rect x="73.0" y="8.6" width="1.5" height="1.5" fill="#40a8f0" opacity="1"/>
<rect x="176.0" y="24.5" width="1.5" height="1.5" fill="#5ab8ff" opacity="1"/>
<rect x="294.5" y="44.2" width="1.5" height="1.5" fill="#e070f0" opacity="0.55"/>
<rect x="220.9" y="41.7" width="1" height="1" fill="#c070f0" opacity="0.85"/>
<rect x="105.0" y="6.1" width="1" height="1" fill="#70c8ff" opacity="0.7"/>
<rect x="284.9" y="42.9" width="1.5" height="1.5" fill="#e070f0" opacity="0.85"/>
<rect x="267.4" y="44.3" width="1" height="1" fill="#ff80ff" opacity="0.85"/>
<rect x="10.3" y="25.3" width="1" height="1" fill="#5ab8ff" opacity="1"/>
<rect x="276.9" y="6.8" width="1.5" height="1.5" fill="#c070f0" opacity="0.55"/>
<rect x="17.4" y="40.5" width="1" height="1" fill="#3890e0" opacity="0.7"/>
<rect x="95.9" y="38.9" width="1.5" height="1.5" fill="#4aa0ff" opacity="0.55"/>
<rect x="120.4" y="4.4" width="1.5" height="1.5" fill="#4aa0ff" opacity="0.7"/>
<rect x="293.4" y="43.2" width="1" height="1" fill="#ff80ff" opacity="0.85"/>
<rect x="31.4" y="23.4" width="1.5" height="1.5" fill="#4aa0ff" opacity="0.7"/>
<rect x="150.3" y="9.3" width="1" height="1" fill="#5ab8ff" opacity="0.55"/>
<rect x="193.0" y="9.7" width="1" height="1" fill="#f08cff" opacity="0.85"/>
<rect x="317.9" y="35.3" width="2" height="2" fill="#e070f0" opacity="0.85"/>
<rect x="245.4" y="30.8" width="1" height="1" fill="#f08cff" opacity="0.55"/>
<rect x="44.9" y="5.2" width="1.5" height="1.5" fill="#70c8ff" opacity="0.55"/>
<rect x="361.6" y="6.3" width="1.5" height="1.5" fill="#ff80ff" opacity="0.7"/>
<rect x="228.4" y="37.9" width="1" height="1" fill="#c070f0" opacity="0.7"/>
<rect x="213.2" y="31.3" width="1.5" height="1.5" fill="#f08cff" opacity="0.55"/>
<rect x="219.1" y="18.7" width="1" height="1" fill="#5ab8ff" opacity="1"/>
<rect x="249.1" y="36.5" width="1" height="1" fill="#e070f0" opacity="0.55"/>
<rect x="399.5" y="9.8" width="1" height="1" fill="#c070f0" opacity="0.7"/>
<rect x="254.3" y="20.3" width="1" height="1" fill="#c070f0" opacity="0.55"/>
<rect x="82.3" y="39.5" width="1.5" height="1.5" fill="#40a8f0" opacity="1"/>
<rect x="244.6" y="40.2" width="1.5" height="1.5" fill="#ff80ff" opacity="0.55"/>
<rect x="310.6" y="32.4" width="1.5" height="1.5" fill="#e070f0" opacity="0.7"/>
<rect x="201.5" y="6.0" width="1" height="1" fill="#c070f0" opacity="0.55"/>
<rect x="240.3" y="17.3" width="1" height="1" fill="#e070f0" opacity="0.85"/>
<rect x="120.6" y="15.2" width="1" height="1" fill="#4aa0ff" opacity="0.7"/>
<rect x="3.1" y="3.7" width="1" height="1" fill="#4aa0ff" opacity="1"/>
<rect x="200.5" y="20.0" width="1" height="1" fill="#40a8f0" opacity="0.55"/>
<rect x="315.3" y="1.5" width="1" height="1" fill="#c070f0" opacity="0.7"/>
<rect x="272.2" y="14.4" width="1" height="1" fill="#f08cff" opacity="0.55"/>
<rect x="142.7" y="4.6" width="1.5" height="1.5" fill="#70c8ff" opacity="0.85"/>
<rect x="120.6" y="12.2" width="1.5" height="1.5" fill="#d060e8" opacity="0.85"/>
<rect x="138.0" y="30.7" width="1" height="1" fill="#70c8ff" opacity="0.7"/>
<rect x="233.6" y="31.8" width="1.5" height="1.5" fill="#70c8ff" opacity="0.55"/>
<rect x="52.1" y="46.4" width="2" height="2" fill="#5ab8ff" opacity="0.85"/>
<rect x="331.4" y="12.2" width="2" height="2" fill="#d060e8" opacity="0.85"/>
<rect x="62.5" y="3.4" width="1" height="1" fill="#40a8f0" opacity="0.55"/>
<rect x="235.7" y="3.6" width="2" height="2" fill="#c070f0" opacity="0.85"/>
<rect x="112.2" y="19.3" width="1.5" height="1.5" fill="#40a8f0" opacity="0.85"/>
<rect x="142.0" y="10.1" width="1" height="1" fill="#40a8f0" opacity="0.85"/>
<rect x="295.1" y="13.6" width="1" height="1" fill="#e070f0" opacity="0.85"/>
<rect x="290.9" y="8.8" width="1.5" height="1.5" fill="#e070f0" opacity="0.85"/>
<rect x="287.0" y="27.9" width="1" height="1" fill="#e070f0" opacity="0.7"/>
<rect x="77.6" y="18.1" width="1.5" height="1.5" fill="#5ab8ff" opacity="0.55"/>
<rect x="115.7" y="0.4" width="1" height="1" fill="#3890e0" opacity="0.85"/>
<rect x="12.9" y="21.5" width="1" height="1" fill="#70c8ff" opacity="1"/>
<rect x="51.8" y="23.5" width="1" height="1" fill="#70c8ff" opacity="0.55"/>
<rect x="83.9" y="13.0" width="1.5" height="1.5" fill="#3890e0" opacity="0.55"/>
<rect x="230.9" y="11.7" width="1" height="1" fill="#5ab8ff" opacity="0.55"/>
<rect x="277.6" y="4.8" width="1" height="1" fill="#e070f0" opacity="1"/>
<rect x="211.9" y="8.8" width="1" height="1" fill="#ff80ff" opacity="1"/>
<rect x="302.2" y="1.6" width="1" height="1" fill="#ff80ff" opacity="0.85"/>
<rect x="325.8" y="42.0" width="2" height="2" fill="#d060e8" opacity="0.7"/>
<rect x="197.7" y="41.7" width="1" height="1" fill="#5ab8ff" opacity="0.85"/>
<rect x="256.7" y="46.0" width="1" height="1" fill="#e070f0" opacity="1"/>
<rect x="102.6" y="23.4" width="2" height="2" fill="#70c8ff" opacity="0.7"/>
<rect x="88.8" y="49.0" width="1" height="1" fill="#3890e0" opacity="1"/>
<rect x="78.1" y="20.2" width="1" height="1" fill="#5ab8ff" opacity="0.55"/>
<rect x="68.1" y="39.8" width="2" height="2" fill="#4aa0ff" opacity="1"/>
<rect x="60.6" y="11.8" width="1" height="1" fill="#5ab8ff" opacity="0.7"/>
<rect x="255.8" y="43.4" width="1" height="1" fill="#d060e8" opacity="1"/>
<rect x="98.1" y="7.4" width="1" height="1" fill="#70c8ff" opacity="0.55"/>
<rect x="77.1" y="6.8" width="2" height="2" fill="#3890e0" opacity="0.55"/>
<rect x="196.4" y="24.5" width="1.5" height="1.5" fill="#3890e0" opacity="0.7"/>
<rect x="191.8" y="29.0" width="2" height="2" fill="#f08cff" opacity="0.7"/>
<rect x="181.3" y="46.9" width="1.5" height="1.5" fill="#40a8f0" opacity="1"/>
<rect x="176.5" y="6.6" width="1.5" height="1.5" fill="#f08cff" opacity="1"/>
<rect x="337.4" y="6.3" width="1" height="1" fill="#f08cff" opacity="0.55"/>
<rect x="224.3" y="43.3" width="1.5" height="1.5" fill="#c070f0" opacity="1"/>
<rect x="310.0" y="21.4" width="2" height="2" fill="#e070f0" opacity="0.7"/>
<rect x="173.4" y="5.7" width="2" height="2" fill="#ff80ff" opacity="0.7"/>
<rect x="86.4" y="37.5" width="1.5" height="1.5" fill="#40a8f0" opacity="1"/>
<rect x="87.3" y="0.7" width="1" height="1" fill="#3890e0" opacity="0.55"/>
<rect x="109.5" y="8.5" width="1" height="1" fill="#5ab8ff" opacity="0.55"/>
<rect x="65.4" y="16.4" width="2" height="2" fill="#70c8ff" opacity="1"/>
<rect x="116.2" y="13.0" width="1" height="1" fill="#3890e0" opacity="0.85"/>
<rect x="150.3" y="24.1" width="1" height="1" fill="#4aa0ff" opacity="0.7"/>
<rect x="7.3" y="15.3" width="1.5" height="1.5" fill="#40a8f0" opacity="0.7"/>
<rect x="348.2" y="11.3" width="1.5" height="1.5" fill="#ff80ff" opacity="0.7"/>
<rect x="5.8" y="45.7" width="1" height="1" fill="#70c8ff" opacity="0.85"/>
<rect x="220.6" y="25.6" width="2" height="2" fill="#d060e8" opacity="0.55"/>
<rect x="97.2" y="14.2" width="1" height="1" fill="#4aa0ff" opacity="0.7"/>
<rect x="90.0" y="15.2" width="1" height="1" fill="#5ab8ff" opacity="0.7"/>
<rect x="203.7" y="16.6" width="1.5" height="1.5" fill="#3890e0" opacity="0.85"/>
<rect x="138.8" y="14.4" width="2" height="2" fill="#5ab8ff" opacity="0.7"/>
<rect x="203.2" y="9.7" width="1" height="1" fill="#ff80ff" opacity="1"/>
<rect x="232.9" y="38.0" width="1.5" height="1.5" fill="#c070f0" opacity="1"/>
<rect x="184.1" y="34.6" width="1.5" height="1.5" fill="#3890e0" opacity="0.55"/>
<rect x="46.2" y="22.3" width="1.5" height="1.5" fill="#40a8f0" opacity="0.7"/>
<rect x="27.8" y="33.5" width="1.5" height="1.5" fill="#3890e0" opacity="0.55"/>
<rect x="63.7" y="34.2" width="1" height="1" fill="#40a8f0" opacity="0.7"/>
<rect x="233.2" y="34.3" width="1.5" height="1.5" fill="#ff80ff" opacity="0.7"/>
<rect x="201.6" y="27.0" width="1.5" height="1.5" fill="#70c8ff" opacity="0.7"/>
<rect x="204.7" y="35.1" width="1.5" height="1.5" fill="#d060e8" opacity="0.55"/>
<rect x="305.9" y="47.8" width="2" height="2" fill="#f08cff" opacity="0.7"/>
<rect x="290.2" y="2.8" width="1" height="1" fill="#f08cff" opacity="0.85"/>
<rect x="117.0" y="17.9" width="1" height="1" fill="#70c8ff" opacity="0.55"/>
<rect x="23.0" y="43.6" width="1" height="1" fill="#3890e0" opacity="0.85"/>
<rect x="167.5" y="41.1" width="2" height="2" fill="#3890e0" opacity="0.55"/>
<rect x="327.5" y="33.2" width="1.5" height="1.5" fill="#ff80ff" opacity="0.85"/>
<rect x="206.9" y="22.6" width="1" height="1" fill="#3890e0" opacity="0.7"/>
<rect x="397.3" y="1.3" width="2" height="2" fill="#c070f0" opacity="0.55"/>
<rect x="87.3" y="22.6" width="1" height="1" fill="#70c8ff" opacity="1"/>
<rect x="30.1" y="21.9" width="1" height="1" fill="#5ab8ff" opacity="0.7"/>
<rect x="315.7" y="21.0" width="2" height="2" fill="#ff80ff" opacity="0.85"/>
<rect x="44.7" y="38.9" width="2" height="2" fill="#3890e0" opacity="1"/>
<rect x="69.4" y="31.2" width="1" height="1" fill="#3890e0" opacity="0.85"/>
<rect x="226.8" y="47.7" width="2" height="2" fill="#e070f0" opacity="0.7"/>
<rect x="396.0" y="8.0" width="1.5" height="1.5" fill="#e070f0" opacity="0.85"/>
<rect x="313.5" y="10.5" width="1" height="1" fill="#d060e8" opacity="0.7"/>
<rect x="277.7" y="39.4" width="1.5" height="1.5" fill="#f08cff" opacity="0.85"/>
<rect x="102.9" y="10.6" width="1" height="1" fill="#40a8f0" opacity="0.7"/>
<rect x="329.3" y="11.6" width="1" height="1" fill="#d060e8" opacity="0.7"/>
<rect x="194.8" y="4.2" width="1" height="1" fill="#70c8ff" opacity="0.85"/>
<rect x="147.9" y="37.6" width="1.5" height="1.5" fill="#d060e8" opacity="0.85"/>
<rect x="272.0" y="14.9" width="1" height="1" fill="#e070f0" opacity="0.7"/>
<rect x="259.5" y="6.1" width="1.5" height="1.5" fill="#c070f0" opacity="1"/>
<rect x="208.1" y="13.6" width="1" height="1" fill="#ff80ff" opacity="0.7"/>
<rect x="102.5" y="17.2" width="1" height="1" fill="#40a8f0" opacity="1"/>
<rect x="209.8" y="24.9" width="1.5" height="1.5" fill="#70c8ff" opacity="0.85"/>
<rect x="68.8" y="32.0" width="2" height="2" fill="#5ab8ff" opacity="0.85"/>
<rect x="298.3" y="19.5" width="1" height="1" fill="#d060e8" opacity="0.7"/>
<rect x="241.7" y="19.7" width="1.5" height="1.5" fill="#e070f0" opacity="0.85"/>
<rect x="229.4" y="1.0" width="2" height="2" fill="#f08cff" opacity="1"/>
<rect x="51.2" y="12.5" width="1" height="1" fill="#3890e0" opacity="0.85"/>
<rect x="166.0" y="3.7" width="1" height="1" fill="#5ab8ff" opacity="0.85"/>
<rect x="100.3" y="2.8" width="1" height="1" fill="#40a8f0" opacity="0.55"/>
<rect x="185.8" y="30.8" width="1" height="1" fill="#d060e8" opacity="0.55"/>
<rect x="37.0" y="7.9" width="1" height="1" fill="#5ab8ff" opacity="1"/>
<rect x="71.3" y="8.9" width="1" height="1" fill="#5ab8ff" opacity="0.55"/>
<rect x="79.2" y="7.5" width="1.5" height="1.5" fill="#40a8f0" opacity="0.55"/>
<rect x="6.1" y="21.5" width="1.5" height="1.5" fill="#70c8ff" opacity="0.7"/>
<rect x="62.7" y="8.6" width="1.5" height="1.5" fill="#40a8f0" opacity="0.55"/>
<rect x="83.2" y="18.6" width="1.5" height="1.5" fill="#70c8ff" opacity="0.7"/>
<rect x="139.2" y="18.5" width="1" height="1" fill="#4aa0ff" opacity="0.85"/>
<rect x="140.0" y="37.1" width="1.5" height="1.5" fill="#5ab8ff" opacity="1"/>
<rect x="216.5" y="40.6" width="1.5" height="1.5" fill="#e070f0" opacity="1"/>
<rect x="45.3" y="13.6" width="2" height="2" fill="#70c8ff" opacity="0.85"/>
<rect x="15.7" y="40.9" width="1" height="1" fill="#3890e0" opacity="0.85"/>
<rect x="90.5" y="24.9" width="2" height="2" fill="#4aa0ff" opacity="0.85"/>
<rect x="200.7" y="42.3" width="1" height="1" fill="#70c8ff" opacity="0.55"/>
<rect x="329.6" y="7.1" width="2" height="2" fill="#ff80ff" opacity="0.7"/>
<rect x="114.3" y="24.8" width="1" height="1" fill="#e070f0" opacity="0.7"/>
<rect x="204.4" y="23.0" width="1.5" height="1.5" fill="#3890e0" opacity="0.7"/>
<rect x="283.8" y="41.1" width="1.5" height="1.5" fill="#d060e8" opacity="0.7"/>
<rect x="110.1" y="44.7" width="1" height="1" fill="#4aa0ff" opacity="0.55"/>
<rect x="300.9" y="27.2" width="1.5" height="1.5" fill="#d060e8" opacity="1"/>
<rect x="217.0" y="13.1" width="1" height="1" fill="#ff80ff" opacity="0.7"/>
<rect x="150.8" y="4.7" width="1.5" height="1.5" fill="#d060e8" opacity="0.85"/>
<rect x="138.1" y="1.4" width="1.5" height="1.5" fill="#f08cff" opacity="0.85"/>
<rect x="247.7" y="46.5" width="1.5" height="1.5" fill="#d060e8" opacity="0.7"/>
<rect x="158.6" y="29.6" width="2" height="2" fill="#5ab8ff" opacity="0.55"/>
<rect x="185.0" y="10.3" width="1" height="1" fill="#40a8f0" opacity="0.55"/>
<rect x="298.4" y="34.9" width="1" height="1" fill="#c070f0" opacity="0.85"/>
<rect x="137.7" y="27.9" width="1.5" height="1.5" fill="#4aa0ff" opacity="0.7"/>
<rect x="117.7" y="43.1" width="1.5" height="1.5" fill="#70c8ff" opacity="0.55"/>
<rect x="48.6" y="36.6" width="2" height="2" fill="#3890e0" opacity="0.55"/>
<rect x="274.2" y="32.0" width="1" height="1" fill="#ff80ff" opacity="0.85"/>
<rect x="71.5" y="7.4" width="1" height="1" fill="#40a8f0" opacity="0.85"/>
<rect x="221.2" y="28.1" width="1" height="1" fill="#ff80ff" opacity="0.55"/>
<rect x="188.9" y="23.3" width="1.5" height="1.5" fill="#40a8f0" opacity="0.7"/>
<rect x="107.5" y="7.6" width="2" height="2" fill="#40a8f0" opacity="1"/>
<rect x="329.2" y="9.4" width="1.5" height="1.5" fill="#d060e8" opacity="0.85"/>
<rect x="87.3" y="4.3" width="1" height="1" fill="#3890e0" opacity="0.85"/>
<rect x="291.0" y="16.2" width="1" height="1" fill="#c070f0" opacity="0.7"/>
<rect x="115.8" y="30.8" width="1" height="1" fill="#3890e0" opacity="0.55"/>
<rect x="208.3" y="6.9" width="2" height="2" fill="#e070f0" opacity="0.7"/>
<rect x="254.4" y="47.8" width="1" height="1" fill="#e070f0" opacity="0.85"/>
<rect x="178.9" y="40.5" width="1" height="1" fill="#d060e8" opacity="0.7"/>
<rect x="315.4" y="5.6" width="1" height="1" fill="#e070f0" opacity="0.55"/>
<rect x="384.6" y="4.1" width="1.5" height="1.5" fill="#ff80ff" opacity="1"/>
<rect x="249.0" y="9.6" width="1" height="1" fill="#f08cff" opacity="0.85"/>
<rect x="272.6" y="32.3" width="2" height="2" fill="#c070f0" opacity="0.7"/>
<rect x="19.2" y="14.4" width="1" height="1" fill="#70c8ff" opacity="1"/>
<rect x="109.5" y="45.4" width="1" height="1" fill="#3890e0" opacity="1"/>
<rect x="365.2" y="1.6" width="2" height="2" fill="#d060e8" opacity="1"/>
<rect x="323.4" y="12.5" width="1" height="1" fill="#ff80ff" opacity="0.85"/>
<rect x="353.9" y="11.2" width="1.5" height="1.5" fill="#d060e8" opacity="0.55"/>
<rect x="162.5" y="13.2" width="1.5" height="1.5" fill="#3890e0" opacity="1"/>
<rect x="127.0" y="7.6" width="1" height="1" fill="#5ab8ff" opacity="0.85"/>
<rect x="26.7" y="33.1" width="1" height="1" fill="#5ab8ff" opacity="1"/>
<rect x="224.1" y="5.5" width="1" height="1" fill="#ff80ff" opacity="0.55"/>
<rect x="323.7" y="5.6" width="1.5" height="1.5" fill="#e070f0" opacity="0.7"/>
<rect x="91.0" y="28.4" width="1" height="1" fill="#40a8f0" opacity="0.7"/>
<rect x="102.7" y="28.7" width="1.5" height="1.5" fill="#40a8f0" opacity="0.85"/>
<rect x="227.1" y="41.7" width="1" height="1" fill="#d060e8" opacity="1"/>
<rect x="137.0" y="20.4" width="1" height="1" fill="#40a8f0" opacity="1"/>
<rect x="105.8" y="42.0" width="2" height="2" fill="#70c8ff" opacity="0.55"/>
<rect x="228.7" y="27.0" width="1.5" height="1.5" fill="#c070f0" opacity="0.55"/>
<rect x="23.9" y="18.6" width="1.5" height="1.5" fill="#4aa0ff" opacity="1"/>
<rect x="80.9" y="0.2" width="1.5" height="1.5" fill="#3890e0" opacity="0.85"/>
<rect x="92.2" y="43.0" width="1.5" height="1.5" fill="#4aa0ff" opacity="0.85"/>
<rect x="162.5" y="5.6" width="1" height="1" fill="#3890e0" opacity="0.85"/>
<circle cx="673.9" cy="18.1" r="2.1" fill="#ffe27a"/>
<circle cx="677.7" cy="13.9" r="2.1" fill="#ffd868"/>
<circle cx="682.8" cy="11.6" r="2.1" fill="#ffc656"/>
<circle cx="688.2" cy="12.0" r="2.1" fill="#ffaa44"/>
<circle cx="693.1" cy="14.8" r="2.1" fill="#ff8c36"/>
<circle cx="696.4" cy="19.5" r="2.1" fill="#ff6a24"/>
<circle cx="678.8" cy="18.8" r="1.6" fill="#ffd45c"/>
<circle cx="683.3" cy="16.7" r="1.6" fill="#ffbb50"/>
<circle cx="688.7" cy="17.4" r="1.6" fill="#ff9c40"/>
<circle cx="691.5" cy="20.9" r="1.6" fill="#ff8030"/>
<circle cx="682.1" cy="20.5" r="1.0" fill="#ffc050"/>
<circle cx="685.6" cy="19.5" r="1.0" fill="#ffa848"/>
<circle cx="684.5" cy="22.6" r="1.0" fill="#ffb048"/>
<circle cx="687.7" cy="21.9" r="1.0" fill="#ff9038"/>
<text x="664" y="29.3" font-family="Liberation Sans, Noto Sans CJK SC, sans-serif" font-size="7.4" font-weight="bold" fill="#fff" stroke="#fff" stroke-width="0.35" textLength="42.5" lengthAdjust="spacingAndGlyphs">BiG DATA</text>
<text x="707.5" y="29.5" font-family="Liberation Sans, Noto Sans CJK SC, sans-serif" font-size="18.5" font-weight="bold" fill="#fff" stroke="#fff" stroke-width="0.5" textLength="36" lengthAdjust="spacingAndGlyphs">World</text>
<text x="664" y="36.6" font-family="Liberation Sans, Noto Sans CJK SC, sans-serif" font-size="7.3" fill="#fff" stroke="#fff" stroke-width="0.25" textLength="80" lengthAdjust="spacingAndGlyphs">中国大数据产业生态大会</text>
<text x="781.5" y="23.6" font-family="Liberation Sans, Noto Sans CJK SC, sans-serif" font-size="13" font-weight="bold" fill="#fff" textLength="128" lengthAdjust="spacing" xml:space="preserve">数智转型 融合共生</text>
<text x="760" y="38.3" font-family="Liberation Sans, Noto Sans CJK SC, sans-serif" font-size="11" font-weight="bold" fill="url(#gold)" textLength="181" lengthAdjust="spacingAndGlyphs">2021(第六届)中国大数据产业生态大会</text>
</svg>
<div class="abs" id="ttl">创新能力：京、粤、苏成为创新能力排头兵</div>

<svg id="dbox" width="960" height="200" style="position:absolute;left:0;top:0" viewBox="0 0 960 200"><rect x="15" y="64" width="543" height="102.5" fill="none" stroke="#4070bb" stroke-width="1.8" stroke-dasharray="8 6" stroke-dashoffset="4"/></svg>
<div class="abs" id="intro">受惠于较高强度的研发投入，北京、广东、江苏三省<br>（直辖市）大数据专利、论文等创新产出不断涌现，创<br>新能力居于全国前列。</div>

<div class="btn" id="b1">创新投入</div>
<div class="btn" id="b2">创新产出</div>
<div class="abs t18" style="left:139px;top:185px"><span style="letter-spacing:0.9px">R&amp;D</span>经费投入达<span class="bl"><span class="n">2.4</span>万亿</span></div>
<div class="abs t18" style="left:373px;top:185px">前<span class="bl"><span class="n">6</span></span>省（直辖市）破<span class="bl">千亿</span></div>
<div class="abs t18" style="left:142px;top:248.5px">大数据</div>
<div class="abs t18" style="left:203px;top:240.8px">专利数量<br>论文数量</div>
<div class="abs t18" style="left:373px;top:237.6px;line-height:22.8px">累计总量超2万件；<br>累计发布量达4.8万篇；</div>

<div id="gbox"></div>
<svg width="960" height="540" viewBox="0 0 960 540" style="position:absolute;left:0;top:0">
<g font-family="Liberation Serif, Noto Serif CJK SC, serif" font-weight="bold" font-size="60" fill="#000" fill-opacity="0.12">
<text x="0" y="0" letter-spacing="6" transform="translate(274,382) rotate(-47)">ccid赛迪</text>
<text x="0" y="0" letter-spacing="6" transform="translate(518,417) rotate(-47)">ccid-2021</text>
<text x="0" y="0" letter-spacing="6" font-size="52" transform="translate(411,535) rotate(-47)">ID</text>
</g></svg>
<div class="abs h20" style="left:28px;top:299.5px">北京市</div>
<div class="abs t18" style="left:29px;top:325px;line-height:21.5px;letter-spacing:0.1px">2020年大中型企业研究开发费用超<span class="rd"><span class="n">2200</span>亿元</span>，同比增长<span class="rd"><span class="n">14.7%</span></span>。</div>
<div class="abs t18 jl" style="left:29px;top:346.5px;line-height:21.5px;width:531px">全市拥有有效发明专利<span class="rd"><span class="n">33.6</span>万件</span>，增长<span class="rd"><span class="n">18.0%</span></span>；PCT国际专利申</div>
<div class="abs t18 jl" style="left:29px;top:368px;line-height:21.5px;width:529px">请量为<span class="rd"><span class="n">8283</span>件</span>，增长<span class="rd"><span class="n">15.6%</span></span>。全年共签订各类技术合同<span class="rd"><span class="n">84451</span></span></div>
<div class="abs t18" style="left:29px;top:389.5px;line-height:21.5px"><span class="rd">项</span>，成交额<span class="rd"><span class="n">6316.2</span>亿元</span>。</div>
<div class="abs h20" style="left:28px;top:418.5px">广东省</div>
<div class="abs t18" style="left:29px;top:443px;line-height:21.1px;letter-spacing:0.14px">2020年<span style="letter-spacing:0.9px">R&amp;D</span>经费投入居全国<span class="rd">首位</span>，全省专利授权总量<span class="rd"><span class="n">70.97</span>万件</span>，</div>
<div class="abs t18" style="left:29px;top:464.1px;line-height:21.1px;letter-spacing:0.03px">居全国<span class="rd">首位</span>；每万人口发明专利拥有量<span class="rd"><span class="n">28.04</span>件</span>；全省高新技术</div>
<div class="abs t18" style="left:29px;top:485.2px;line-height:21.1px;letter-spacing:0.0px">企业超<span class="rd"><span class="n">5.3</span>万家</span>，高新技术产品产值<span class="rd"><span class="n">7.8</span>万亿元。</span></div>

<div class="abs" id="ctitle">全国大数据创新能力指数图</div>
<div class="gl" style="left:633.60px"></div>
<div class="ax" style="left:612.80px">0.00</div>
<div class="gl" style="left:668.76px"></div>
<div class="ax" style="left:647.96px">10.00</div>
<div class="gl" style="left:703.93px"></div>
<div class="ax" style="left:683.13px">20.00</div>
<div class="gl" style="left:739.09px"></div>
<div class="ax" style="left:718.29px">30.00</div>
<div class="gl" style="left:774.26px"></div>
<div class="ax" style="left:753.46px">40.00</div>
<div class="gl" style="left:809.42px"></div>
<div class="ax" style="left:788.62px">50.00</div>
<div class="gl" style="left:844.59px"></div>
<div class="ax" style="left:823.79px">60.00</div>
<div class="gl" style="left:879.75px"></div>
<div class="ax" style="left:858.95px">70.00</div>
<div class="gl" style="left:914.92px"></div>
<div class="ax" style="left:894.12px">80.00</div>
<div class="cl" style="top:107.70px">北京</div>
<div class="bar r" style="top:110.50px;width:237.47px"></div>
<div class="vl" style="top:107.60px;left:876.27px">67.53</div>
<div class="cl" style="top:120.36px">广东</div>
<div class="bar y" style="top:123.16px;width:205.05px"></div>
<div class="vl" style="top:120.26px;left:843.85px">58.31</div>
<div class="cl" style="top:133.02px">江苏</div>
<div class="bar y" style="top:135.82px;width:182.05px"></div>
<div class="vl" style="top:132.92px;left:820.85px">51.77</div>
<div class="cl" style="top:145.68px">山东</div>
<div class="bar g" style="top:148.48px;width:152.90px"></div>
<div class="vl" style="top:145.58px;left:791.70px">43.48</div>
<div class="cl" style="top:158.34px">上海</div>
<div class="bar g" style="top:161.14px;width:146.50px"></div>
<div class="vl" style="top:158.24px;left:785.30px">41.66</div>
<div class="cl" style="top:171.00px">浙江</div>
<div class="bar g" style="top:173.80px;width:143.97px"></div>
<div class="vl" style="top:170.90px;left:782.77px">40.94</div>
<div class="cl" style="top:183.66px">湖北</div>
<div class="bar o" style="top:186.46px;width:103.14px"></div>
<div class="vl" style="top:183.56px;left:741.94px">29.33</div>
<div class="cl" style="top:196.32px">四川</div>
<div class="bar o" style="top:199.12px;width:101.31px"></div>
<div class="vl" style="top:196.22px;left:740.11px">28.81</div>
<div class="cl" style="top:208.98px">河南</div>
<div class="bar o" style="top:211.78px;width:95.30px"></div>
<div class="vl" style="top:208.88px;left:734.10px">27.10</div>
<div class="cl" style="top:221.64px">安徽</div>
<div class="bar o" style="top:224.44px;width:94.91px"></div>
<div class="vl" style="top:221.54px;left:733.71px">26.99</div>
<div class="cl" style="top:234.30px">福建</div>
<div class="bar o" style="top:237.10px;width:89.67px"></div>
<div class="vl" style="top:234.20px;left:728.47px">25.50</div>
<div class="cl" style="top:246.96px">天津</div>
<div class="bar o" style="top:249.76px;width:88.33px"></div>
<div class="vl" style="top:246.86px;left:727.13px">25.12</div>
<div class="cl" style="top:259.62px">湖南</div>
<div class="bar o" style="top:262.42px;width:76.34px"></div>
<div class="vl" style="top:259.52px;left:715.14px">21.71</div>
<div class="cl" style="top:272.28px">重庆</div>
<div class="bar d" style="top:275.08px;width:70.29px"></div>
<div class="vl" style="top:272.18px;left:709.09px">19.99</div>
<div class="cl" style="top:284.94px">陕西</div>
<div class="bar d" style="top:287.74px;width:69.13px"></div>
<div class="vl" style="top:284.84px;left:707.93px">19.66</div>
<div class="cl" style="top:297.60px">辽宁</div>
<div class="bar d" style="top:300.40px;width:67.94px"></div>
<div class="vl" style="top:297.50px;left:706.74px">19.32</div>
<div class="cl" style="top:310.26px">河北</div>
<div class="bar d" style="top:313.06px;width:56.51px"></div>
<div class="vl" style="top:310.16px;left:695.31px">16.07</div>
<div class="cl" style="top:322.92px">江西</div>
<div class="bar d" style="top:325.72px;width:55.28px"></div>
<div class="vl" style="top:322.82px;left:694.08px">15.72</div>
<div class="cl" style="top:335.58px">贵州</div>
<div class="bar d" style="top:338.38px;width:54.82px"></div>
<div class="vl" style="top:335.48px;left:693.62px">15.59</div>
<div class="cl" style="top:348.24px">山西</div>
<div class="bar d" style="top:351.04px;width:50.00px"></div>
<div class="vl" style="top:348.14px;left:688.80px">14.22</div>
<div class="cl" style="top:360.90px">广西</div>
<div class="bar d" style="top:363.70px;width:44.69px"></div>
<div class="vl" style="top:360.80px;left:683.49px">12.71</div>
<div class="cl" style="top:373.56px">吉林</div>
<div class="bar d" style="top:376.36px;width:41.64px"></div>
<div class="vl" style="top:373.46px;left:680.44px">11.84</div>
<div class="cl" style="top:386.22px">云南</div>
<div class="bar d" style="top:389.02px;width:38.37px"></div>
<div class="vl" style="top:386.12px;left:677.17px">10.91</div>
<div class="cl" style="top:398.88px">黑龙江</div>
<div class="bar d" style="top:401.68px;width:35.90px"></div>
<div class="vl" style="top:398.78px;left:674.70px">10.21</div>
<div class="cl" style="top:411.54px">新疆</div>
<div class="bar p" style="top:414.34px;width:32.11px"></div>
<div class="vl" style="top:411.44px;left:670.91px">9.13</div>
<div class="cl" style="top:424.20px">内蒙古</div>
<div class="bar p" style="top:427.00px;width:27.78px"></div>
<div class="vl" style="top:424.10px;left:666.58px">7.90</div>
<div class="cl" style="top:436.86px">甘肃</div>
<div class="bar p" style="top:439.66px;width:22.33px"></div>
<div class="vl" style="top:436.76px;left:661.13px">6.35</div>
<div class="cl" style="top:449.52px">海南</div>
<div class="bar p" style="top:452.32px;width:22.05px"></div>
<div class="vl" style="top:449.42px;left:660.85px">6.27</div>
<div class="cl" style="top:462.18px">宁夏</div>
<div class="bar l" style="top:464.98px;width:12.52px"></div>
<div class="vl" style="top:462.08px;left:651.32px">3.56</div>
<div class="cl" style="top:474.84px">青海</div>
<div class="bar l" style="top:477.64px;width:9.46px"></div>
<div class="vl" style="top:474.74px;left:648.26px">2.69</div>
<div class="cl" style="top:487.50px">西藏</div>
<div class="bar l" style="top:490.30px;width:6.93px"></div>
<div class="vl" style="top:487.40px;left:645.73px">1.97</div>

<svg width="960" height="6" viewBox="0 0 960 6" style="position:absolute;left:0;top:534px">
<rect x="0" y="0" width="960" height="6" fill="#2222aa"/>
<polygon points="790,0 960,0 960,6 797,6" fill="#5a2ac8"/>
<polygon points="888,0 915,0 925,6 898,6" fill="#8a6ade"/>
<polygon points="925,0 960,0 960,6 935,6" fill="#4a3ad8"/>
</svg>
<div style="position:absolute;left:959px;top:49px;width:1px;height:485px;background:#8a86c8"></div>
</body>
</html>
